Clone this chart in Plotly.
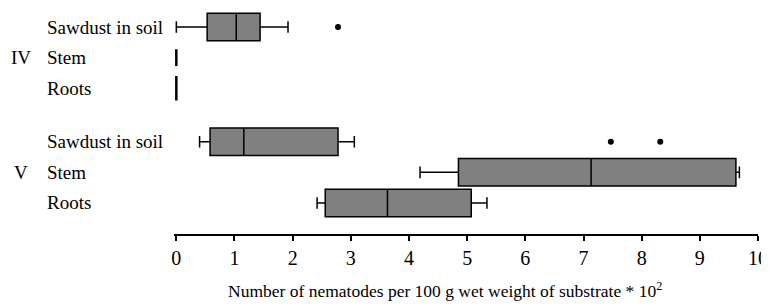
import plotly.graph_objects as go

# ---- data (values in units of 10^2 nematodes per 100 g) ----
row_labels = ["Sawdust in soil", "Stem", "Roots", "Sawdust in soil", "Stem", "Roots"]
group_labels = ["IV", "V"]
lower = [0.00, 0.00, 0.00, 0.40, 4.19, 2.42]
q1 = [0.53, 0.00, 0.00, 0.58, 4.85, 2.56]
median = [1.03, 0.00, 0.00, 1.16, 7.13, 3.63]
q3 = [1.44, 0.00, 0.00, 2.78, 9.62, 5.07]
upper = [1.92, 0.00, 0.00, 3.06, 9.68, 5.34]
outlier_row = [0, 3, 3]
outlier_val = [2.78, 7.47, 8.32]
x_ticks = [0, 1, 2, 3, 4, 5, 6, 7, 8, 9, 10]
x_title = "Number of nematodes per 100 g wet weight of substrate * 10<sup>2</sup>"

# ---- layout / style constants ----
row_pos = [0, 1, 2, 3.75, 4.75, 5.75]
group_pos = [1, 4.75]
box_w = [0.9, 0.55, 0.8, 0.9, 0.9, 0.9]
line_w = [1.5, 2.5, 2.5, 1.5, 1.5, 1.5]
FONT = "Liberation Serif"
W, H = 761, 299          # page body has an 8 px margin
ML, MR, MT, MB = 166, 11, 2, 73
PW = W - ML - MR
PH = H - MT - MB

fig = go.Figure()
for i in range(len(row_labels)):
    fig.add_trace(go.Box(
        orientation="h",
        y=[row_pos[i]],
        q1=[q1[i]], median=[median[i]], q3=[q3[i]],
        lowerfence=[lower[i]], upperfence=[upper[i]],
        width=box_w[i], whiskerwidth=0.42,
        fillcolor="#808080",
        line=dict(color="#000000", width=line_w[i]),
        boxpoints=False, showlegend=False, hoverinfo="skip",
    ))

fig.add_trace(go.Scatter(
    x=outlier_val, y=[row_pos[r] for r in outlier_row], mode="markers",
    marker=dict(color="#000000", size=6), showlegend=False, hoverinfo="skip",
))

for i, lab in enumerate(row_labels):
    fig.add_annotation(x=(37 - ML) / PW, xref="paper", y=row_pos[i], yref="y",
                       text=lab, showarrow=False, xanchor="left",
                       font=dict(family=FONT, size=19, color="#000"))
group_x = [1, 4]
for g, lab in enumerate(group_labels):
    fig.add_annotation(x=(group_x[g] - ML) / PW, xref="paper",
                       y=group_pos[g], yref="y", text=lab, showarrow=False,
                       xanchor="left", font=dict(family=FONT, size=19, color="#000"))

# axis title placed as an annotation (it sits left of the plot centre in the reference)
fig.add_annotation(x=(437 - ML) / PW, xref="paper", y=-(282 - (MT + PH)) / PH,
                   yref="paper", text=x_title, showarrow=False,
                   xanchor="center", yanchor="middle",
                   font=dict(family=FONT, size=17.5, color="#000"))

fig.update_layout(
    width=W, height=H,
    margin=dict(l=ML, r=MR, t=MT, b=MB),
    paper_bgcolor="white", plot_bgcolor="white",
    font=dict(family=FONT, color="#000"),
    xaxis=dict(range=[-0.04, 10], tickvals=x_ticks, ticks="outside", ticklen=5,
               tickwidth=1.5, tickcolor="#000", showline=True, linewidth=2,
               linecolor="#000", showgrid=False, zeroline=False, automargin=False,
               tickfont=dict(family=FONT, size=20, color="#000")),
    yaxis=dict(range=[6.765, -0.556], visible=False, showgrid=False, zeroline=False),
)

fig.write_html("out.html")
